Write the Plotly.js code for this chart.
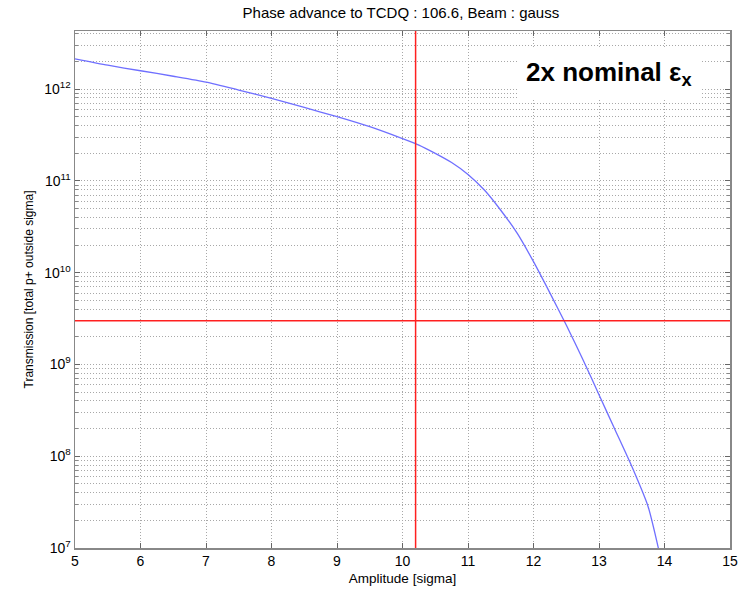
<!DOCTYPE html>
<html>
<head>
<meta charset="utf-8">
<script src="https://cdn.plot.ly/plotly-3.0.1.min.js"></script>
<style>html,body{margin:0;padding:0;background:#fff;}#chart{width:755px;height:593px;}</style>
</head>
<body>
<div id="chart"></div>
<script>
// Data
const amplitude = [5, 5.5, 6, 6.5, 7, 7.5, 8, 8.5, 9, 9.5, 10, 10.25, 10.5, 10.75, 11, 11.25, 11.5, 11.75, 12, 12.25, 12.5, 12.75, 13, 13.25, 13.5, 13.75, 14];
const log10Transmission = [12.33, 12.26, 12.20, 12.14, 12.076, 11.99, 11.90, 11.80, 11.70, 11.59, 11.46, 11.39, 11.30, 11.20, 11.07, 10.90, 10.68, 10.43, 10.12, 9.78, 9.43, 9.06, 8.67, 8.28, 7.89, 7.45, 6.70];
const transmission = log10Transmission.map(v => Math.pow(10, v));
const cutAmplitude = 10.2;
const cutTransmission = 3e9;
const yTickVals = [1e7, 1e8, 1e9, 1e10, 1e11, 1e12];
const yTickText = ['10<sup>7</sup>', '10<sup>8</sup>', '10<sup>9</sup>', '10<sup>10</sup>', '10<sup>11</sup>', '10<sup>12</sup>'];
const xTickVals = [5, 6, 7, 8, 9, 10, 11, 12, 13, 14, 15];

const gridColor = '#a8a8a8';
const gridDash = '1px,2px';
const font = {family: 'Liberation Sans, Arial, sans-serif', color: '#000'};

const traces = [{
  x: amplitude,
  y: transmission,
  type: 'scatter',
  mode: 'lines',
  line: {color: '#6f6fff', width: 1.3, shape: 'spline', smoothing: 0.6},
  hoverinfo: 'skip'
}];

const layout = {
  width: 755,
  height: 593,
  margin: {l: 75, r: 25, t: 31, b: 45},
  paper_bgcolor: '#fff',
  plot_bgcolor: '#fff',
  showlegend: false,
  font: Object.assign({size: 12}, font),
  title: {
    text: 'Phase advance to TCDQ : 106.6, Beam : gauss',
    font: Object.assign({size: 15}, font),
    x: 0.531, xanchor: 'center', y: 0.988, yanchor: 'top'
  },
  xaxis: {
    range: [5, 15],
    tickvals: xTickVals,
    ticks: 'inside', ticklen: 5, tickcolor: '#666',
    mirror: 'ticks',
    showline: true, linecolor: '#888', linewidth: 1.5,
    showgrid: true, gridcolor: gridColor, griddash: gridDash, gridwidth: 1,
    zeroline: false,
    tickfont: Object.assign({size: 14}, font),
    title: {text: 'Amplitude [sigma]', font: Object.assign({size: 13.5}, font), standoff: 5}
  },
  yaxis: {
    type: 'log',
    range: [7, 12.633],
    tickvals: yTickVals,
    ticktext: yTickText,
    ticks: 'inside', ticklen: 5, tickcolor: '#666',
    mirror: 'ticks',
    showline: true, linecolor: '#888', linewidth: 1.5,
    showgrid: true, gridcolor: gridColor, griddash: gridDash, gridwidth: 1,
    zeroline: false,
    minor: {
      dtick: 'D1',
      showgrid: true, gridcolor: gridColor, griddash: gridDash, gridwidth: 1,
      ticks: 'inside', ticklen: 3, tickcolor: '#888'
    },
    tickfont: Object.assign({size: 14}, font),
    title: {text: 'Transmission [total p+ outside sigma]', font: Object.assign({size: 12}, font), standoff: 8}
  },
  shapes: [
    {type: 'line', xref: 'x', yref: 'paper', x0: cutAmplitude, x1: cutAmplitude, y0: 0, y1: 1,
     line: {color: '#ff2020', width: 1.5}},
    {type: 'line', xref: 'paper', yref: 'y', x0: 0, x1: 1, y0: cutTransmission, y1: cutTransmission,
     line: {color: '#ff2020', width: 1.5}}
  ],
  annotations: [{
    xref: 'paper', yref: 'paper',
    x: 0.815, y: 0.918, xanchor: 'center', yanchor: 'middle',
    text: '<b>2x nominal ε<sub>x</sub></b>',
    showarrow: false,
    bgcolor: '#fff',
    borderpad: 8,
    font: Object.assign({size: 26}, font)
  }]
};

Plotly.newPlot('chart', traces, layout, {displayModeBar: false, staticPlot: true});
</script>
</body>
</html>
